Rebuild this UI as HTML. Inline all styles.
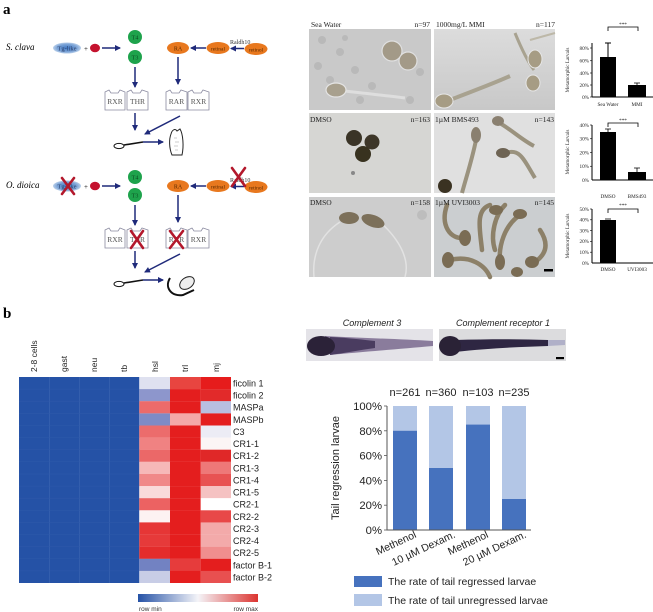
<!DOCTYPE html>
<html><head><meta charset="utf-8"><style>
html,body{margin:0;padding:0;background:#fff;}
svg{display:block;}
.ser{font-family:"Liberation Serif",serif;}
.san{font-family:"Liberation Sans",sans-serif;}
</style></head><body>
<svg width="653" height="612" viewBox="0 0 653 612" xmlns="http://www.w3.org/2000/svg">
<defs>
<marker id="ah" markerWidth="6" markerHeight="6" refX="5" refY="3" orient="auto" markerUnits="userSpaceOnUse">
<path d="M0,0 L6,3 L0,6 Z" fill="#1f2a7a"/></marker>
<radialGradient id="tg" cx="0.5" cy="0.5" r="0.6"><stop offset="0" stop-color="#3f78c4"/><stop offset="0.6" stop-color="#7fa6d8"/><stop offset="1" stop-color="#e4eef8"/></radialGradient>
<linearGradient id="cb" x1="0" x2="1" y1="0" y2="0"><stop offset="0" stop-color="#2552a6"/><stop offset="0.5" stop-color="#f4f4f8"/><stop offset="1" stop-color="#dc3430"/></linearGradient>
<linearGradient id="p2" x1="0" x2="0" y1="0" y2="1"><stop offset="0" stop-color="#dcdcdc"/><stop offset="1" stop-color="#c8c8c8"/></linearGradient>
</defs>

<!-- Panel letters -->
<text x="3" y="14" class="ser" font-weight="bold" font-size="15">a</text>
<text x="3" y="318" class="ser" font-weight="bold" font-size="15">b</text>

<!-- ===== Diagram S. clava ===== -->
<g id="sclava">
<text x="6" y="50" class="ser" font-style="italic" font-size="9">S. clava</text>
<ellipse cx="67" cy="48" rx="14" ry="5.5" fill="url(#tg)"/>
<text x="67" y="50.5" class="ser" font-size="6.5" text-anchor="middle" fill="#2a3f6a">Tg-like</text>
<text x="84" y="51" class="ser" font-size="7">+</text>
<ellipse cx="95" cy="48" rx="5" ry="4.3" fill="#c4122e"/>
<line x1="102" y1="48" x2="120" y2="48" stroke="#1f2a7a" stroke-width="1.5" marker-end="url(#ah)"/>
<circle cx="135" cy="37" r="7" fill="#1ea34c"/>
<text x="135" y="39.5" class="ser" font-size="6" text-anchor="middle" fill="#0c4a20">T4</text>
<circle cx="135" cy="57" r="7" fill="#1ea34c"/>
<text x="135" y="59.5" class="ser" font-size="6" text-anchor="middle" fill="#0c4a20">T3</text>
<line x1="135" y1="67" x2="135" y2="87" stroke="#1f2a7a" stroke-width="1.5" marker-end="url(#ah)"/>
<path d="M105,92 L109,90 L111,93 L118,93 L120,90 L125,92 L125,110 L105,110 Z" fill="#fff" stroke="#8a8aa0" stroke-width="0.8"/>
<path d="M127,92 L131,90 L133,93 L140,93 L142,90 L148,92 L148,110 L127,110 Z" fill="#fff" stroke="#8a8aa0" stroke-width="0.8"/>
<text x="115" y="104" class="ser" font-size="7.5" text-anchor="middle" fill="#555">RXR</text>
<text x="137.5" y="104" class="ser" font-size="7.5" text-anchor="middle" fill="#555">THR</text>
<line x1="135" y1="113" x2="135" y2="130" stroke="#1f2a7a" stroke-width="1.5" marker-end="url(#ah)"/>
<line x1="180" y1="116" x2="145" y2="134" stroke="#1f2a7a" stroke-width="1.5" marker-end="url(#ah)"/>
<ellipse cx="178" cy="48" rx="11" ry="6" fill="#e8781e"/>
<text x="178" y="50.5" class="ser" font-size="6" text-anchor="middle" fill="#5a2a00">RA</text>
<ellipse cx="218" cy="48" rx="11.5" ry="6" fill="#e8781e"/>
<text x="218" y="50.5" class="ser" font-size="5.5" text-anchor="middle" fill="#5a2a00">retinal</text>
<ellipse cx="256" cy="49" rx="11.5" ry="6" fill="#e8781e"/>
<text x="256" y="51.5" class="ser" font-size="5.5" text-anchor="middle" fill="#5a2a00">retinol</text>
<text x="230" y="44" class="ser" font-size="6" fill="#333">Raldh10</text>
<line x1="206" y1="48" x2="191" y2="48" stroke="#1f2a7a" stroke-width="1.5" marker-end="url(#ah)"/>
<line x1="244" y1="48.5" x2="231" y2="48.5" stroke="#1f2a7a" stroke-width="1.5" marker-end="url(#ah)"/>
<line x1="178" y1="57" x2="178" y2="84" stroke="#1f2a7a" stroke-width="1.5" marker-end="url(#ah)"/>
<path d="M166,92 L170,90 L172,93 L179,93 L181,90 L187,92 L187,110 L166,110 Z" fill="#fff" stroke="#8a8aa0" stroke-width="0.8"/>
<path d="M188,92 L192,90 L194,93 L201,93 L203,90 L209,92 L209,110 L188,110 Z" fill="#fff" stroke="#8a8aa0" stroke-width="0.8"/>
<text x="176.5" y="104" class="ser" font-size="7.5" text-anchor="middle" fill="#555">RAR</text>
<text x="198.5" y="104" class="ser" font-size="7.5" text-anchor="middle" fill="#555">RXR</text>
</g>
<!-- S. clava larva -> juvenile -->
<ellipse cx="119" cy="146" rx="5" ry="2.6" fill="#fff" stroke="#111" stroke-width="1"/>
<path d="M124,145 L143,142" stroke="#111" stroke-width="1.6"/>
<line x1="143" y1="142" x2="163" y2="142" stroke="#1f2a7a" stroke-width="1.5" marker-end="url(#ah)"/>
<path d="M172,155 C169,148 169,139 171,134 C172,130 175,128 177,131 L180,129 C183,134 184,146 182,155 Z" fill="#fff" stroke="#222" stroke-width="1"/>
<path d="M174,138 h3 M175,142 h4 M174,146 h4 M175,150 h3" stroke="#999" stroke-width="0.6"/>

<!-- ===== Diagram O. dioica ===== -->
<g transform="translate(0,138)">
<text x="6" y="50" class="ser" font-style="italic" font-size="9">O. dioica</text>
<ellipse cx="67" cy="48" rx="14" ry="5.5" fill="url(#tg)"/>
<text x="67" y="50.5" class="ser" font-size="6.5" text-anchor="middle" fill="#2a3f6a">Tg-like</text>
<text x="84" y="51" class="ser" font-size="7">+</text>
<ellipse cx="95" cy="48" rx="5" ry="4.3" fill="#c4122e"/>
<line x1="102" y1="48" x2="120" y2="48" stroke="#1f2a7a" stroke-width="1.5" marker-end="url(#ah)"/>
<circle cx="135" cy="39" r="7" fill="#1ea34c"/>
<text x="135" y="41.5" class="ser" font-size="6" text-anchor="middle" fill="#0c4a20">T4</text>
<circle cx="135" cy="57" r="7" fill="#1ea34c"/>
<text x="135" y="59.5" class="ser" font-size="6" text-anchor="middle" fill="#0c4a20">T3</text>
<line x1="135" y1="67" x2="135" y2="87" stroke="#1f2a7a" stroke-width="1.5" marker-end="url(#ah)"/>
<path d="M105,92 L109,90 L111,93 L118,93 L120,90 L125,92 L125,110 L105,110 Z" fill="#fff" stroke="#8a8aa0" stroke-width="0.8"/>
<path d="M127,92 L131,90 L133,93 L140,93 L142,90 L148,92 L148,110 L127,110 Z" fill="#fff" stroke="#8a8aa0" stroke-width="0.8"/>
<text x="115" y="104" class="ser" font-size="7.5" text-anchor="middle" fill="#555">RXR</text>
<text x="137.5" y="104" class="ser" font-size="7.5" text-anchor="middle" fill="#555">THR</text>
<line x1="135" y1="113" x2="135" y2="130" stroke="#1f2a7a" stroke-width="1.5" marker-end="url(#ah)"/>
<line x1="180" y1="116" x2="145" y2="134" stroke="#1f2a7a" stroke-width="1.5" marker-end="url(#ah)"/>
<ellipse cx="178" cy="48" rx="11" ry="6" fill="#e8781e"/>
<text x="178" y="50.5" class="ser" font-size="6" text-anchor="middle" fill="#5a2a00">RA</text>
<ellipse cx="218" cy="48" rx="11.5" ry="6" fill="#e8781e"/>
<text x="218" y="50.5" class="ser" font-size="5.5" text-anchor="middle" fill="#5a2a00">retinal</text>
<ellipse cx="256" cy="49" rx="11.5" ry="6" fill="#e8781e"/>
<text x="256" y="51.5" class="ser" font-size="5.5" text-anchor="middle" fill="#5a2a00">retinol</text>
<text x="230" y="44" class="ser" font-size="6" fill="#333">Raldh10</text>
<line x1="206" y1="48" x2="191" y2="48" stroke="#1f2a7a" stroke-width="1.5" marker-end="url(#ah)"/>
<line x1="244" y1="48.5" x2="231" y2="48.5" stroke="#1f2a7a" stroke-width="1.5" marker-end="url(#ah)"/>
<line x1="178" y1="57" x2="178" y2="84" stroke="#1f2a7a" stroke-width="1.5" marker-end="url(#ah)"/>
<path d="M166,92 L170,90 L172,93 L179,93 L181,90 L187,92 L187,110 L166,110 Z" fill="#fff" stroke="#8a8aa0" stroke-width="0.8"/>
<path d="M188,92 L192,90 L194,93 L201,93 L203,90 L209,92 L209,110 L188,110 Z" fill="#fff" stroke="#8a8aa0" stroke-width="0.8"/>
<text x="176.5" y="104" class="ser" font-size="7.5" text-anchor="middle" fill="#555">RAR</text>
<text x="198.5" y="104" class="ser" font-size="7.5" text-anchor="middle" fill="#555">RXR</text>
<!-- red X marks -->
<g stroke="#b3182c" stroke-width="2.6" stroke-linecap="round">
<path d="M62,40 L74,56 M74,40 L62,56"/>
<path d="M232,30 L245,48 M245,30 L232,48"/>
<path d="M131,93 L143,110 M143,93 L131,110"/>
<path d="M170,93 L183,110 M183,93 L170,110"/>
</g>
</g>
<!-- O. dioica larva -> juvenile -->
<ellipse cx="119" cy="284" rx="5" ry="2.6" fill="#fff" stroke="#111" stroke-width="1"/>
<path d="M124,283 L143,280" stroke="#111" stroke-width="1.6"/>
<line x1="143" y1="280" x2="163" y2="280" stroke="#1f2a7a" stroke-width="1.5" marker-end="url(#ah)"/>
<path d="M170,278 C164,288 172,297 183,295 L194,290" stroke="#111" stroke-width="2" fill="none"/>
<ellipse cx="187" cy="283" rx="8" ry="5.5" transform="rotate(-35 187 283)" fill="#eee" stroke="#222" stroke-width="1"/>

<!-- ===== Photos panel a ===== -->
<g class="ser" font-size="7.5" fill="#222">
<text x="311" y="27">Sea Water</text><text x="430" y="27" text-anchor="end">n=97</text>
<text x="436" y="27">1000mg/L MMI</text><text x="555" y="27" text-anchor="end">n=117</text>
</g>
<!-- row1 photo1 -->
<rect x="309" y="29" width="122" height="81" fill="#c9c9c9"/>
<g fill="#b9b9b9"><circle cx="322" cy="40" r="4"/><circle cx="340" cy="52" r="4"/><circle cx="318" cy="66" r="4"/><circle cx="355" cy="70" r="4"/><circle cx="330" cy="80" r="4"/><circle cx="372" cy="86" r="4"/><circle cx="420" cy="72" r="4"/><circle cx="410" cy="100" r="4"/><circle cx="360" cy="100" r="4"/><circle cx="345" cy="38" r="3"/></g>
<circle cx="392" cy="51" r="10" fill="#a39a88" stroke="#e0e0e0" stroke-width="1.2"/>
<circle cx="408" cy="61" r="9" fill="#a39a88" stroke="#e0e0e0" stroke-width="1.2"/>
<path d="M345,91 C370,94 390,96 405,98" stroke="#dedede" stroke-width="3" fill="none"/>
<ellipse cx="336" cy="90" rx="10" ry="7" fill="#a8a08e" stroke="#e4e4e4" stroke-width="1.2"/>
<!-- row1 photo2 -->
<rect x="434" y="29" width="121" height="81" fill="url(#p2)"/>
<path d="M515,33 C522,50 528,62 534,70" stroke="#a8a290" stroke-width="3" fill="none"/>
<ellipse cx="535" cy="59" rx="7" ry="9" fill="#a69c84" stroke="#e6e6e6"/>
<ellipse cx="533" cy="83" rx="7" ry="8" fill="#a69c84" stroke="#e6e6e6"/>
<path d="M450,100 C470,92 490,85 510,76" stroke="#a8a290" stroke-width="4" fill="none"/>
<ellipse cx="444" cy="101" rx="9" ry="7" fill="#a69c84" stroke="#e6e6e6"/>
<path d="M530,40 L555,33" stroke="#bdb8a8" stroke-width="2"/>
<!-- row2 photo1 -->
<rect x="309" y="113" width="122" height="80" fill="#d6d6d3"/>
<circle cx="354" cy="138" r="8" fill="#3a3426"/>
<circle cx="372" cy="142" r="7.5" fill="#3d3628"/>
<circle cx="363" cy="154" r="8" fill="#38321f"/>
<circle cx="353" cy="173" r="2" fill="#888"/>
<!-- row2 photo2 -->
<rect x="434" y="113" width="121" height="80" fill="#e0e0e0"/>
<path d="M476,140 C472,160 466,178 462,193" stroke="#9a927e" stroke-width="4" fill="none"/>
<ellipse cx="476" cy="135" rx="5" ry="8" fill="#8a8070"/>
<path d="M498,122 C512,130 522,140 534,146" stroke="#9a927e" stroke-width="4" fill="none"/>
<ellipse cx="498" cy="121" rx="6" ry="5" fill="#8a8070"/>
<path d="M506,153 C520,148 524,160 535,178" stroke="#9a927e" stroke-width="4" fill="none"/>
<ellipse cx="503" cy="153" rx="7" ry="5" fill="#6e6454"/>
<ellipse cx="445" cy="186" rx="7" ry="7" fill="#3a3222"/>
<g class="ser" font-size="7.5" fill="#222">
<text x="310" y="122">DMSO</text><text x="430" y="122" text-anchor="end">n=163</text>
<text x="435" y="122">1µM BMS493</text><text x="554" y="122" text-anchor="end">n=143</text>
</g>
<!-- row3 photo1 -->
<rect x="309" y="197" width="122" height="80" fill="#cdcdcd"/>
<circle cx="422" cy="215" r="5" fill="#bdbdbd"/>
<path d="M340,222 C320,235 312,255 314,277" stroke="#e2e2e2" stroke-width="1.5" fill="none"/>
<path d="M380,222 C400,240 410,260 405,277" stroke="#e2e2e2" stroke-width="1.5" fill="none"/>
<ellipse cx="349" cy="218" rx="10" ry="6" fill="#7c705a"/>
<ellipse cx="373" cy="221" rx="12" ry="6" transform="rotate(20 373 221)" fill="#7c705a"/>
<!-- row3 photo2 -->
<rect x="434" y="197" width="121" height="80" fill="#cbced0"/>
<g stroke="#8c8068" stroke-width="4.5" fill="none" stroke-linecap="round">
<path d="M447,205 C440,225 450,240 465,238"/>
<path d="M490,205 C475,210 480,230 482,250"/>
<path d="M505,205 C495,215 490,235 495,250"/>
<path d="M520,215 C505,225 498,245 500,265"/>
<path d="M450,260 C470,255 485,265 490,277"/>
<path d="M540,230 C550,245 545,255 535,262"/>
</g>
<g fill="#7a6c54"><ellipse cx="465" cy="238" rx="6" ry="8"/><ellipse cx="496" cy="210" rx="7" ry="5"/><ellipse cx="520" cy="214" rx="7" ry="5"/><ellipse cx="448" cy="260" rx="6" ry="8"/><ellipse cx="500" cy="262" rx="5" ry="8"/><ellipse cx="532" cy="262" rx="7" ry="6"/><ellipse cx="517" cy="272" rx="6" ry="5"/></g>
<rect x="544" y="269" width="9" height="2.5" fill="#000"/>
<g class="ser" font-size="7.5" fill="#222">
<text x="310" y="205">DMSO</text><text x="430" y="205" text-anchor="end">n=158</text>
<text x="435" y="205">1µM UVI3003</text><text x="554" y="205" text-anchor="end">n=145</text>
</g>

<!-- ===== Small bar charts ===== -->
<g class="ser" font-size="5.2" fill="#222">
<!-- chart1 -->
<line x1="592" y1="43" x2="592" y2="97" stroke="#000" stroke-width="1"/>
<line x1="592" y1="97" x2="653" y2="97" stroke="#000" stroke-width="1"/>
<g stroke="#000" stroke-width="0.6"><line x1="590" y1="48" x2="592" y2="48"/><line x1="590" y1="60.75" x2="592" y2="60.75"/><line x1="590" y1="73" x2="592" y2="73"/><line x1="590" y1="85" x2="592" y2="85"/><line x1="590" y1="97" x2="592" y2="97"/></g>
<text x="589" y="50" text-anchor="end">80%</text><text x="589" y="62.5" text-anchor="end">60%</text><text x="589" y="75" text-anchor="end">40%</text><text x="589" y="87" text-anchor="end">20%</text><text x="589" y="99" text-anchor="end">0%</text>
<rect x="600" y="57" width="16" height="40" fill="#000"/>
<path d="M608,57 V43 M605,43 H611" stroke="#000" stroke-width="1"/>
<rect x="628" y="85" width="18" height="12" fill="#000"/>
<path d="M637,85 V83 M634,83 H640" stroke="#000" stroke-width="0.8"/>
<path d="M608,31 V27 H638 V31" stroke="#000" stroke-width="0.8" fill="none"/>
<text x="623" y="26" text-anchor="middle">***</text>
<text x="608" y="106" text-anchor="middle">Sea Water</text><text x="637" y="106" text-anchor="middle">MMI</text>
<text transform="translate(569,70) rotate(-90)" text-anchor="middle">Metamorphic Larvals</text>
<!-- chart2 -->
<line x1="592" y1="125" x2="592" y2="180" stroke="#000" stroke-width="1"/>
<line x1="592" y1="180" x2="653" y2="180" stroke="#000" stroke-width="1"/>
<g stroke="#000" stroke-width="0.6"><line x1="590" y1="125" x2="592" y2="125"/><line x1="590" y1="138.75" x2="592" y2="138.75"/><line x1="590" y1="152.5" x2="592" y2="152.5"/><line x1="590" y1="166.25" x2="592" y2="166.25"/></g>
<text x="589" y="127" text-anchor="end">40%</text><text x="589" y="140.5" text-anchor="end">30%</text><text x="589" y="154.5" text-anchor="end">20%</text><text x="589" y="168" text-anchor="end">10%</text><text x="589" y="182" text-anchor="end">0%</text>
<rect x="600" y="132" width="16" height="48" fill="#000"/>
<path d="M608,132 V129 M605,129 H611" stroke="#000" stroke-width="0.8"/>
<rect x="628" y="172" width="18" height="8" fill="#000"/>
<path d="M637,172 V168 M634,168 H640" stroke="#000" stroke-width="0.8"/>
<path d="M608,127 V123 H638 V127" stroke="#000" stroke-width="0.8" fill="none"/>
<text x="623" y="122" text-anchor="middle">***</text>
<text x="608" y="198" text-anchor="middle">DMSO</text><text x="637" y="198" text-anchor="middle">BMS493</text>
<text transform="translate(569,152) rotate(-90)" text-anchor="middle">Metamorphic Larvals</text>
<!-- chart3 -->
<line x1="592" y1="209" x2="592" y2="263" stroke="#000" stroke-width="1"/>
<line x1="592" y1="263" x2="653" y2="263" stroke="#000" stroke-width="1"/>
<g stroke="#000" stroke-width="0.6"><line x1="590" y1="209" x2="592" y2="209"/><line x1="590" y1="219.8" x2="592" y2="219.8"/><line x1="590" y1="230.6" x2="592" y2="230.6"/><line x1="590" y1="241.4" x2="592" y2="241.4"/><line x1="590" y1="252.2" x2="592" y2="252.2"/></g>
<text x="589" y="211" text-anchor="end">50%</text><text x="589" y="221.5" text-anchor="end">40%</text><text x="589" y="232.5" text-anchor="end">30%</text><text x="589" y="243" text-anchor="end">20%</text><text x="589" y="254" text-anchor="end">10%</text><text x="589" y="265" text-anchor="end">0%</text>
<rect x="600" y="220" width="16" height="43" fill="#000"/>
<path d="M605,219 H611" stroke="#000" stroke-width="0.8"/>
<path d="M608,213 V209 H638 V213" stroke="#000" stroke-width="0.8" fill="none"/>
<text x="623" y="207" text-anchor="middle">***</text>
<text x="608" y="271" text-anchor="middle">DMSO</text><text x="637" y="271" text-anchor="middle">UVI3003</text>
<text transform="translate(569,236) rotate(-90)" text-anchor="middle">Metamorphic Larvals</text>
</g>

<!-- ===== Heatmap ===== -->
<g class="san" font-size="8.5" fill="#222">
<text transform="translate(37,372) rotate(-90)">2-8 cells</text>
<text transform="translate(67,372) rotate(-90)">gast</text>
<text transform="translate(97,372) rotate(-90)">neu</text>
<text transform="translate(127,372) rotate(-90)">tb</text>
<text transform="translate(158,372) rotate(-90)">hsl</text>
<text transform="translate(188,372) rotate(-90)">trl</text>
<text transform="translate(219,372) rotate(-90)">mj</text>
</g>
<rect x="19" y="377" width="120.3" height="206" fill="#2552a6"/>
<g stroke="#3d66b2" stroke-width="0.6">
<line x1="49.3" y1="377" x2="49.3" y2="583"/><line x1="79.3" y1="377" x2="79.3" y2="583"/><line x1="109.3" y1="377" x2="109.3" y2="583"/>
</g>
<g stroke="#2f5aab" stroke-width="0.5">
<line x1="19" y1="389.1" x2="139.3" y2="389.1"/><line x1="19" y1="401.2" x2="139.3" y2="401.2"/><line x1="19" y1="413.4" x2="139.3" y2="413.4"/><line x1="19" y1="425.5" x2="139.3" y2="425.5"/><line x1="19" y1="437.6" x2="139.3" y2="437.6"/><line x1="19" y1="449.7" x2="139.3" y2="449.7"/><line x1="19" y1="461.8" x2="139.3" y2="461.8"/><line x1="19" y1="474" x2="139.3" y2="474"/><line x1="19" y1="486.1" x2="139.3" y2="486.1"/><line x1="19" y1="498.2" x2="139.3" y2="498.2"/><line x1="19" y1="510.3" x2="139.3" y2="510.3"/><line x1="19" y1="522.4" x2="139.3" y2="522.4"/><line x1="19" y1="534.6" x2="139.3" y2="534.6"/><line x1="19" y1="546.7" x2="139.3" y2="546.7"/><line x1="19" y1="558.8" x2="139.3" y2="558.8"/><line x1="19" y1="570.9" x2="139.3" y2="570.9"/>
</g>
<g>
<!-- hsl x139.3 w30.7 ; trl x170 w30.7 ; mj x200.7 w30.3 -->
<rect x="139.3" y="377" width="30.8" height="12.2" fill="#dfe1f0"/><rect x="170" y="377" width="30.8" height="12.2" fill="#e84540"/><rect x="200.7" y="377" width="30.3" height="12.2" fill="#e61c1c"/>
<rect x="139.3" y="389.1" width="30.8" height="12.2" fill="#8d96cc"/><rect x="170" y="389.1" width="30.8" height="12.2" fill="#e41e1e"/><rect x="200.7" y="389.1" width="30.3" height="12.2" fill="#e22a2a"/>
<rect x="139.3" y="401.2" width="30.8" height="12.2" fill="#ec6b6b"/><rect x="170" y="401.2" width="30.8" height="12.2" fill="#e41e1e"/><rect x="200.7" y="401.2" width="30.3" height="12.2" fill="#b8bfe0"/>
<rect x="139.3" y="413.4" width="30.8" height="12.2" fill="#7f8bc6"/><rect x="170" y="413.4" width="30.8" height="12.2" fill="#f4a8a8"/><rect x="200.7" y="413.4" width="30.3" height="12.2" fill="#e41e1e"/>
<rect x="139.3" y="425.5" width="30.8" height="12.2" fill="#ec6c6c"/><rect x="170" y="425.5" width="30.8" height="12.2" fill="#e41e1e"/><rect x="200.7" y="425.5" width="30.3" height="12.2" fill="#ececf5"/>
<rect x="139.3" y="437.6" width="30.8" height="12.2" fill="#f08282"/><rect x="170" y="437.6" width="30.8" height="12.2" fill="#e41e1e"/><rect x="200.7" y="437.6" width="30.3" height="12.2" fill="#fbf5f5"/>
<rect x="139.3" y="449.7" width="30.8" height="12.2" fill="#eb6868"/><rect x="170" y="449.7" width="30.8" height="12.2" fill="#e41e1e"/><rect x="200.7" y="449.7" width="30.3" height="12.2" fill="#e02828"/>
<rect x="139.3" y="461.8" width="30.8" height="12.2" fill="#f6b8b8"/><rect x="170" y="461.8" width="30.8" height="12.2" fill="#e41e1e"/><rect x="200.7" y="461.8" width="30.3" height="12.2" fill="#ee7878"/>
<rect x="139.3" y="474" width="30.8" height="12.2" fill="#f08888"/><rect x="170" y="474" width="30.8" height="12.2" fill="#e41e1e"/><rect x="200.7" y="474" width="30.3" height="12.2" fill="#e85252"/>
<rect x="139.3" y="486.1" width="30.8" height="12.2" fill="#f9dada"/><rect x="170" y="486.1" width="30.8" height="12.2" fill="#e41e1e"/><rect x="200.7" y="486.1" width="30.3" height="12.2" fill="#f5c2c2"/>
<rect x="139.3" y="498.2" width="30.8" height="12.2" fill="#ec6262"/><rect x="170" y="498.2" width="30.8" height="12.2" fill="#e41e1e"/><rect x="200.7" y="498.2" width="30.3" height="12.2" fill="#ffffff"/>
<rect x="139.3" y="510.3" width="30.8" height="12.2" fill="#fdf2f2"/><rect x="170" y="510.3" width="30.8" height="12.2" fill="#e41e1e"/><rect x="200.7" y="510.3" width="30.3" height="12.2" fill="#e84848"/>
<rect x="139.3" y="522.4" width="30.8" height="12.2" fill="#e63636"/><rect x="170" y="522.4" width="30.8" height="12.2" fill="#e41e1e"/><rect x="200.7" y="522.4" width="30.3" height="12.2" fill="#f3aaaa"/>
<rect x="139.3" y="534.6" width="30.8" height="12.2" fill="#e63a3a"/><rect x="170" y="534.6" width="30.8" height="12.2" fill="#e41e1e"/><rect x="200.7" y="534.6" width="30.3" height="12.2" fill="#f3aaaa"/>
<rect x="139.3" y="546.7" width="30.8" height="12.2" fill="#e42c2c"/><rect x="170" y="546.7" width="30.8" height="12.2" fill="#e41e1e"/><rect x="200.7" y="546.7" width="30.3" height="12.2" fill="#f08e8e"/>
<rect x="139.3" y="558.8" width="30.8" height="12.2" fill="#7282c2"/><rect x="170" y="558.8" width="30.8" height="12.2" fill="#e63c3c"/><rect x="200.7" y="558.8" width="30.3" height="12.2" fill="#e41e1e"/>
<rect x="139.3" y="570.9" width="30.8" height="12.1" fill="#c8cde6"/><rect x="170" y="570.9" width="30.8" height="12.1" fill="#e41e1e"/><rect x="200.7" y="570.9" width="30.3" height="12.1" fill="#e85050"/>
</g>
<g class="san" font-size="9" fill="#222">
<text x="233" y="386.5">ficolin 1</text>
<text x="233" y="398.6">ficolin 2</text>
<text x="233" y="410.7">MASPa</text>
<text x="233" y="422.9">MASPb</text>
<text x="233" y="435">C3</text>
<text x="233" y="447.1">CR1-1</text>
<text x="233" y="459.2">CR1-2</text>
<text x="233" y="471.3">CR1-3</text>
<text x="233" y="483.5">CR1-4</text>
<text x="233" y="495.6">CR1-5</text>
<text x="233" y="507.7">CR2-1</text>
<text x="233" y="519.8">CR2-2</text>
<text x="233" y="531.9">CR2-3</text>
<text x="233" y="544.1">CR2-4</text>
<text x="233" y="556.2">CR2-5</text>
<text x="233" y="568.3">factor B-1</text>
<text x="233" y="580.4">factor B-2</text>
</g>
<rect x="138" y="594" width="120" height="8" fill="url(#cb)"/>
<text x="139" y="611" class="san" font-size="6.5" fill="#333">row min</text>
<text x="258" y="611" class="san" font-size="6.5" fill="#333" text-anchor="end">row max</text>

<!-- ===== Panel b right: in situ ===== -->
<text x="372" y="326" class="san" font-style="italic" font-size="9" text-anchor="middle" fill="#222">Complement 3</text>
<text x="503" y="326" class="san" font-style="italic" font-size="9" text-anchor="middle" fill="#222">Complement receptor 1</text>
<rect x="306" y="329" width="127" height="32" fill="#e4e3e8"/>
<path d="M325,336 C360,338 400,339 433,341 L433,346 C400,349 360,352 330,355 Z" fill="#8a7c9c"/>
<path d="M330,337 C350,338 365,340 375,341 L375,348 C360,350 345,353 330,355 Z" fill="#4a3c60"/>
<ellipse cx="321" cy="346" rx="14" ry="10" fill="#2b2238"/>
<rect x="439" y="329" width="127" height="32" fill="#dcdcde"/>
<path d="M455,340 C490,339 520,339 548,340 L548,346 C520,347 490,348 455,352 Z" fill="#2e2642"/>
<path d="M548,340 L565,340 L565,345 L548,346 Z" fill="#b0b0c8"/>
<ellipse cx="450" cy="346" rx="11" ry="10" fill="#2a2236"/>
<rect x="556" y="357" width="8" height="2.2" fill="#000"/>

<!-- ===== Stacked bar chart ===== -->
<g class="san" fill="#222">
<g font-size="11" text-anchor="middle">
<text x="405" y="396">n=261</text><text x="441" y="396">n=360</text><text x="478" y="396">n=103</text><text x="514" y="396">n=235</text>
</g>
<rect x="393" y="406" width="24" height="124" fill="#b3c6e6"/>
<rect x="393" y="430.8" width="24" height="99.2" fill="#4672be"/>
<rect x="429" y="406" width="24" height="124" fill="#b3c6e6"/>
<rect x="429" y="468" width="24" height="62" fill="#4672be"/>
<rect x="466" y="406" width="24" height="124" fill="#b3c6e6"/>
<rect x="466" y="424.6" width="24" height="105.4" fill="#4672be"/>
<rect x="502" y="406" width="24" height="124" fill="#b3c6e6"/>
<rect x="502" y="499" width="24" height="31" fill="#4672be"/>
<line x1="387" y1="406" x2="387" y2="530.5" stroke="#555" stroke-width="1"/>
<line x1="387" y1="530" x2="531" y2="530" stroke="#555" stroke-width="1"/>
<g stroke="#555" stroke-width="0.8"><line x1="384" y1="406" x2="387" y2="406"/><line x1="384" y1="430.8" x2="387" y2="430.8"/><line x1="384" y1="455.6" x2="387" y2="455.6"/><line x1="384" y1="480.4" x2="387" y2="480.4"/><line x1="384" y1="505.2" x2="387" y2="505.2"/><line x1="384" y1="530" x2="387" y2="530"/></g>
<g font-size="11.3" text-anchor="end">
<text x="382" y="410">100%</text><text x="382" y="434.8">80%</text><text x="382" y="459.6">60%</text><text x="382" y="484.4">40%</text><text x="382" y="509.2">20%</text><text x="382" y="534">0%</text>
</g>
<text transform="translate(339,468) rotate(-90)" font-size="11" text-anchor="middle">Tail regression larvae</text>
<g font-size="10.5" text-anchor="end">
<text transform="translate(417,537) rotate(-25)">Methenol</text>
<text transform="translate(456,537) rotate(-25)">10 µM Dexam.</text>
<text transform="translate(489,537) rotate(-25)">Methenol</text>
<text transform="translate(527,537) rotate(-25)">20 µM Dexam.</text>
</g>
<rect x="354" y="576" width="28" height="11" fill="#4672be"/>
<text x="388" y="585" font-size="10.5">The rate of tail regressed larvae</text>
<rect x="354" y="594" width="28" height="12" fill="#b3c6e6"/>
<text x="388" y="604" font-size="10.5">The rate of tail unregressed larvae</text>
</g>
</svg>
</body></html>
